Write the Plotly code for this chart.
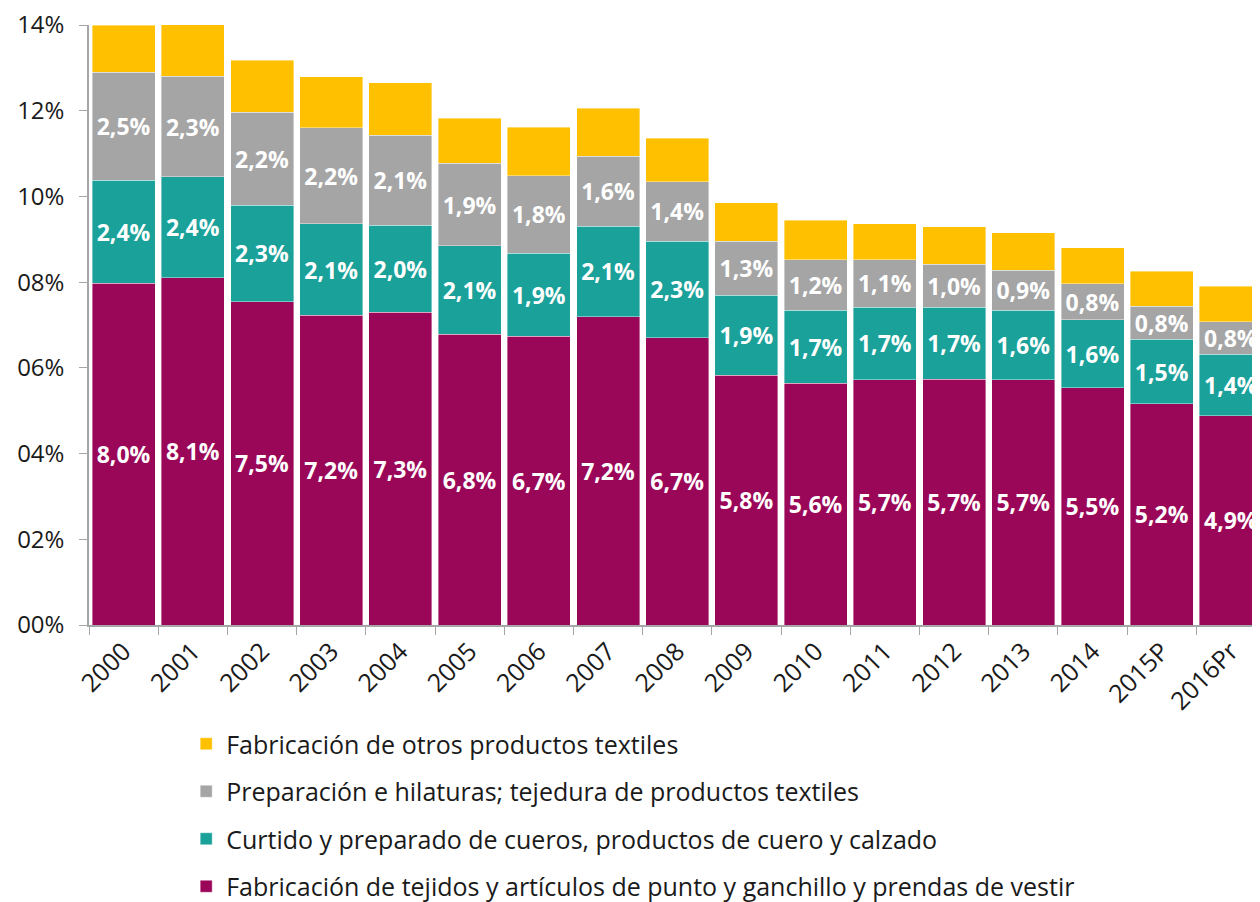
import plotly.graph_objects as go

categories = ["2000", "2001", "2002", "2003", "2004", "2005", "2006", "2007", "2008",
              "2009", "2010", "2011", "2012", "2013", "2014", "2015P", "2016Pr"]

tejidos = [7.98, 8.10, 7.54, 7.23, 7.30, 6.79, 6.74, 7.19, 6.70,
           5.83, 5.64, 5.72, 5.74, 5.72, 5.54, 5.16, 4.88]
cueros = [2.40, 2.36, 2.26, 2.13, 2.03, 2.06, 1.94, 2.12, 2.26,
          1.87, 1.71, 1.70, 1.68, 1.63, 1.58, 1.51, 1.44]
hilaturas = [2.52, 2.34, 2.17, 2.24, 2.10, 1.92, 1.80, 1.63, 1.38,
             1.26, 1.17, 1.10, 1.00, 0.93, 0.84, 0.77, 0.76]
otros = [1.10, 1.21, 1.21, 1.19, 1.22, 1.05, 1.14, 1.12, 1.02,
         0.89, 0.93, 0.84, 0.87, 0.87, 0.84, 0.82, 0.82]

tick_vals = [0, 2, 4, 6, 8, 10, 12, 14]
tick_text = ["00%", "02%", "04%", "06%", "08%", "10%", "12%", "14%"]

series = [
    ("Fabricación de tejidos y artículos de punto y ganchillo y prendas de vestir", tejidos, "#9B0758", True),
    ("Curtido y preparado de cueros, productos de cuero y calzado", cueros, "#1AA19A", True),
    ("Preparación e hilaturas; tejedura de productos textiles", hilaturas, "#A5A5A5", True),
    ("Fabricación de otros productos textiles", otros, "#FFC000", False),
]

FONT = "Open Sans"
fig = go.Figure()
n = len(series)
for i, (name, vals, color, labeled) in enumerate(series):
    fig.add_trace(go.Bar(
        x=categories, y=vals, name=name,
        marker=dict(color=color, line=dict(color="rgba(255,255,255,0.5)", width=0.8)),
        texttemplate="%{y:.1f}%" if labeled else None,
        textposition="inside" if labeled else "none",
        insidetextanchor="middle",
        textfont=dict(family=FONT, size=23, color="white", weight="bold"),
        constraintext="none",
        legendgroup=f"g{i}",
        legendrank=n - i,
        hoverinfo="skip",
    ))

fig.update_layout(
    width=1260, height=902,
    barmode="stack", bargap=0.09,
    separators=",.",
    plot_bgcolor="white", paper_bgcolor="white",
    margin=dict(l=81, r=8, t=17, b=285, autoexpand=False),
    font=dict(family=FONT, color="#1a1a1a"),
    showlegend=True,
    legend=dict(
        x=0.083, y=-0.16, xanchor="left", yanchor="top",
        orientation="v", traceorder="grouped",
        font=dict(family=FONT, size=25, color="#1a1a1a"),
        tracegroupgap=12, itemwidth=30,
    ),
)
fig.update_xaxes(
    range=[-0.5, 16.42], automargin=False,
    showline=True, linecolor="#A6A6A6", linewidth=1.5,
    ticks="outside", tickson="boundaries", ticklen=8, tickcolor="#A6A6A6",
    tickangle=-45, tickfont=dict(family=FONT, size=25, color="#1a1a1a"),
    showgrid=False,
)
fig.update_yaxes(
    range=[0, 14], automargin=False,
    tickvals=tick_vals, ticktext=tick_text,
    showline=True, linecolor="#A6A6A6", linewidth=1.5,
    ticks="outside", ticklen=8, tickcolor="#A6A6A6",
    tickfont=dict(family=FONT, size=24, color="#1a1a1a"),
    ticklabeloverflow="allow", ticklabelstandoff=10,
    showgrid=False, zeroline=False,
)

fig.write_html("out.html")
